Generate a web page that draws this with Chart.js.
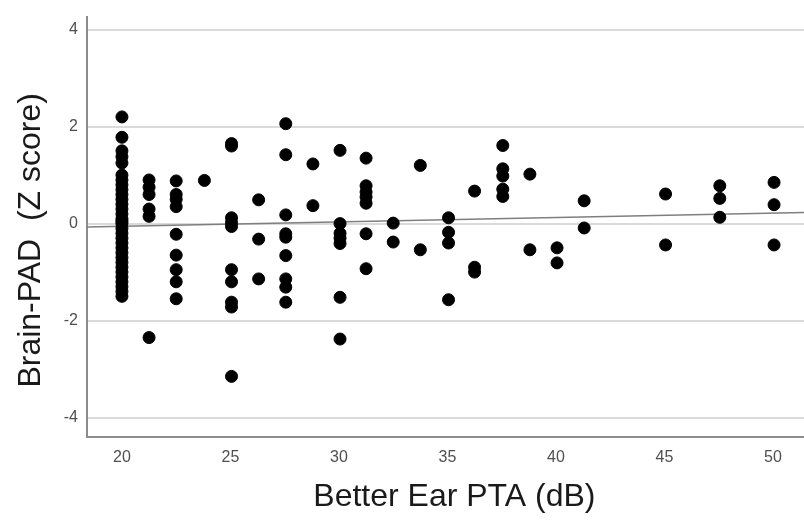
<!DOCTYPE html>
<html>
<head>
<meta charset="utf-8">
<script src="https://cdn.jsdelivr.net/npm/chart.js@4"></script>
<style>
  html, body { margin: 0; padding: 0; background: #fff; }
  #wrap { width: 804px; height: 523px; }
</style>
</head>
<body>
<div id="wrap"><canvas id="myChart" width="804" height="523"></canvas></div>
<script>
// Better ear PTA (dB) columns and Brain-PAD z scores
const ptaColumns = [20, 21.25, 22.5, 23.8, 25.05, 26.3, 27.55, 28.8, 30.05, 31.25, 32.5,
  33.75, 35.05, 36.25, 37.55, 38.8, 40.05, 41.3, 45.05, 47.55, 50.05];
const zScores = [
  [2.2, 1.78, 1.5, 1.38, 1.25, 1.0, 0.9, 0.8, 0.7, 0.6, 0.5, 0.4, 0.3, 0.2, 0.1, 0.05, 0,
    -0.1, -0.2, -0.3, -0.4, -0.5, -0.6, -0.7, -0.8, -0.9, -1.0, -1.1, -1.2, -1.3, -1.4, -1.5],
  [0.9, 0.75, 0.6, 0.3, 0.15, -2.35],
  [0.88, 0.6, 0.5, 0.35, -0.22, -0.65, -0.95, -1.2, -1.55],
  [0.89],
  [1.65, 1.6, 0.12, 0.02, -0.06, -0.95, -1.2, -1.62, -1.72, -3.15],
  [0.49, -0.32, -1.14],
  [2.06, 1.42, 0.18, -0.21, -0.28, -0.66, -1.14, -1.31, -1.62],
  [1.23, 0.37],
  [1.51, 0, -0.2, -0.3, -0.41, -1.52, -2.38],
  [1.35, 0.78, 0.65, 0.55, 0.42, -0.21, -0.93],
  [0.01, -0.38],
  [1.2, -0.54],
  [0.12, -0.18, -0.4, -1.57],
  [0.67, -0.9, -1.0],
  [1.61, 1.13, 0.98, 0.71, 0.56],
  [1.02, -0.54],
  [-0.5, -0.81],
  [0.47, -0.09],
  [0.61, -0.44],
  [0.78, 0.52, 0.13],
  [0.85, 0.39, -0.44],
];

// fit line end points (x range of the plot)
const fitX = [18.39, 51.43];
const fitY = [-0.07, 0.23];

const xTicks = [20, 25, 30, 35, 40, 45, 50];
const yTicks = [-4, -2, 0, 2, 4];

const points = [];
ptaColumns.forEach((pta, i) => {
  zScores[i].forEach((z) => points.push({ x: pta, y: z }));
});
const fitLine = fitX.map((x, i) => ({ x: x, y: fitY[i] }));

const fontFamily = "'Liberation Sans', Arial, sans-serif";

new Chart(document.getElementById('myChart'), {
  type: 'scatter',
  data: {
    datasets: [
      {
        data: points,
        backgroundColor: '#000',
        borderColor: '#000',
        borderWidth: 1,
        pointRadius: 6,
        pointHoverRadius: 6,
        order: 1,
      },
      {
        type: 'line',
        data: fitLine,
        borderColor: '#7f7f7f',
        borderWidth: 1.5,
        pointRadius: 0,
        fill: false,
        order: 2,
      },
    ],
  },
  options: {
    responsive: false,
    animation: false,
    events: [],
    layout: { autoPadding: false, padding: { top: 17, right: 0, left: 0, bottom: 0 } },
    plugins: { legend: { display: false }, tooltip: { enabled: false } },
    scales: {
      x: {
        type: 'linear',
        min: fitX[0],
        max: fitX[1],
        afterBuildTicks: (axis) => { axis.ticks = xTicks.map((v) => ({ value: v })); },
        afterFit: (axis) => {
          axis.height = 86;
          axis.paddingLeft = 0;
          axis.paddingRight = 0;
        },
        grid: { color: 'rgba(0,0,0,0)', drawTicks: false },
        border: { color: '#8c8c8c', width: 2 },
        ticks: { color: '#505050', padding: 11, maxRotation: 0, font: { family: fontFamily, size: 16 } },
        title: {
          display: true,
          // leading spaces nudge the centred title right like the original
          text: '  Better Ear PTA (dB)',
          color: '#1a1a1a',
          font: { family: fontFamily, size: 32 },
          padding: { top: 0, bottom: 7 },
        },
      },
      y: {
        type: 'linear',
        min: -4.4,
        max: 4.26,
        afterBuildTicks: (axis) => { axis.ticks = yTicks.map((v) => ({ value: v })); },
        afterFit: (axis) => {
          axis.width = 87;
          axis.paddingTop = 0;
          axis.paddingBottom = 0;
        },
        grid: { color: '#dadada', lineWidth: 2, drawTicks: false },
        border: { color: '#8c8c8c', width: 2 },
        ticks: { color: '#505050', padding: 9, font: { family: fontFamily, size: 16 } },
        title: {
          display: true,
          text: 'Brain-PAD  (Z score)   ',
          color: '#1a1a1a',
          font: { family: fontFamily, size: 32 },
          padding: { top: 12, bottom: 0 },
        },
      },
    },
  },
});
</script>
</body>
</html>
